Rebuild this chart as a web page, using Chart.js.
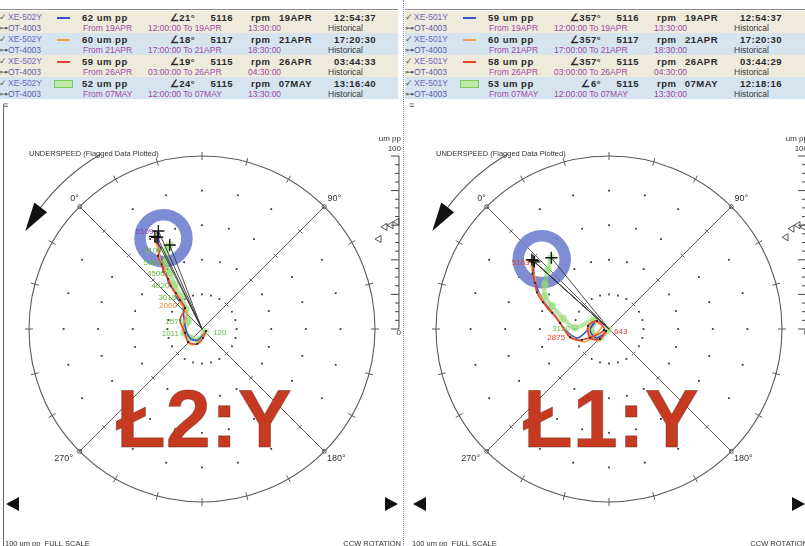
<!DOCTYPE html>
<html>
<head>
<meta charset="utf-8">
<script src="https://cdn.jsdelivr.net/npm/chart.js@4.4.0/dist/chart.umd.min.js"></script>
<style>
  html, body { margin:0; padding:0; width:805px; height:546px; overflow:hidden; background:#fff;
    font-family:"Liberation Sans", Arial, sans-serif; }
  .panel { position:absolute; top:0; height:546px; overflow:hidden; }
  .panel canvas { position:absolute; top:104px; }
  .hdr { position:absolute; white-space:nowrap; line-height:11px; height:11px; }
  .b { font-weight:bold; font-size:9.5px; color:#2a2a2a; letter-spacing:0.5px; }
  .n { font-size:8.5px; }
  .r { text-align:right; width:80px; }
  #divider { position:absolute; left:403px; top:0; width:0; height:546px; border-left:1px dotted #7d8db5; }
  #lborder { position:absolute; left:3px; top:104px; width:1px; height:442px; background:#666; }
</style>
</head>
<body>
<div id="left" class="panel" style="left:0;width:402px"></div>
<div id="right" class="panel" style="left:405px;width:400px"></div>
<div id="divider"></div>
<div id="lborder"></div>
<script>
// ---- Header values per probe: 1X amplitude (um pp), phase (deg), speed (rpm) ----
const sampleDates  = ['19APR', '21APR', '26APR', '07MAY'];
const windowStart  = ['12:00:00', '17:00:00', '03:00:00', '12:00:00'];
const windowEnd    = ['13:30:00', '18:30:00', '04:30:00', '13:30:00'];

const leftAmps   = [62, 60, 59, 52];
const leftPhases = [21, 18, 19, 24];
const leftRpms   = [5116, 5117, 5115, 5115];
const leftTimes  = ['12:54:37', '17:20:30', '03:44:33', '13:16:40'];

const rightAmps   = [59, 60, 58, 53];
const rightPhases = [357, 357, 357, 6];
const rightRpms   = [5116, 5117, 5115, 5115];
const rightTimes  = ['12:54:37', '17:20:30', '03:44:29', '12:18:16'];

// ---- Run-up 1X vector samples (um pp / deg), slow roll up to full speed ----
// XE-502Y
const l19AprAmp = [3.1, 6.8, 8.6, 9.3, 12.2, 17.3, 23.0, 27.8, 32.7, 38.0, 42.8, 47.9, 52.8, 57.1];
const l19AprPh  = [203, 245, 273, 311, 346, 5, 6, 9, 9, 12, 13, 15, 16, 19];
const l21AprAmp = [2.9, 7.0, 10.9, 10.6, 11.1, 12.3, 18.1, 23.1, 28.1, 32.9, 37.5, 42.0, 46.7, 51.5, 56.4];
const l21AprPh  = [188, 235, 257, 286, 324, 0, 5, 8, 8, 11, 11, 14, 14, 16, 17];
const l26AprAmp = [2.6, 5.2, 9.1, 11.0, 10.1, 13.7, 15.6, 21.0, 25.7, 30.6, 35.0, 39.9, 44.1, 49.3, 52.7, 57.4];
const l26AprPh  = [162, 219, 243, 272, 302, 337, 6, 8, 9, 9, 11, 11, 13, 14, 18, 17];
const l07MayAmp = [2.5, 6.6, 8.7, 10.7, 9.3, 14.8, 22.1, 30.1, 37.3, 44.0, 50.2];
const l07MayPh  = [180, 240, 278, 303, 345, 6, 12, 13, 15, 17, 21];
// XE-501Y
const r19AprAmp = [2.9, 9.1, 11.0, 8.8, 18.7, 25.4, 32.1, 39.0, 45.2, 49.9, 54.4];
const r19AprPh  = [262, 280, 312, 347, 299, 314, 329, 336, 342, 347, 352];
const r21AprAmp = [2.1, 9.4, 11.9, 10.6, 4.4, 15.8, 23.9, 30.7, 37.1, 43.2, 48.4, 52.0, 56.8];
const r21AprPh  = [259, 268, 301, 337, 338, 287, 308, 327, 333, 340, 344, 350, 353];
const r26AprAmp = [2.1, 7.8, 12.1, 12.3, 8.3, 2.9, 16.9, 23.0, 28.5, 34.2, 41.2, 46.8, 50.4, 54.6];
const r26AprPh  = [281, 267, 290, 323, 349, 304, 293, 303, 322, 331, 337, 342, 347, 351];
const r07MayAmp = [0.8, 7.4, 10.1, 10.1, 19.7, 27.3, 35.5, 41.6, 45.2, 49.1];
const r07MayPh  = [270, 270, 302, 346, 317, 328, 337, 342, 350, 359];

// ---- Speed tags along the traces (series index, sample index; -1 = final vector) ----
const leftTagText   = ['120', '1011', '1575', '2000', '3015', '4020', '4506', '5003', '5100', '5109'];
const leftTagSeries = [3, 3, 3, 1, 3, 3, 3, 3, 3, 0];
const leftTagIndex  = [0, 3, 4, 6, 6, 7, 8, 9, 10, -1];
const rightTagText   = ['643', '2875', '3120', '5103'];
const rightTagSeries = [2, 2, 3, 2];
const rightTagIndex  = [0, 7, 4, -1];

// ---- Highlight ring (amplitude / phase of its centre) ----
const leftRing  = [57, 22];
const rightRing = [56, 1];

const FULL_SCALE = 100;
const SERIES_COLORS = ['#3a4fc4', '#f0a048', '#e2452f', 'rgba(140,214,110,0.6)'];
const TAG_COLORS = ['#8b3fb0', '#f08a2e', '#e2392c', '#62bb40'];

const K = 1.73;              // pixels per um pp
const CW = 403, CH = 442;    // canvas size
const CX = 202, CY = 225;    // polar origin inside the canvas

function toXY(amp, ph) {
  const c = (ph - 45) * Math.PI / 180;   // 0 deg sits at the upper-left diagonal, lag runs clockwise
  return { x: amp * Math.sin(c), y: amp * Math.cos(c) };
}

function el(parent, cls, text, style) {
  const s = document.createElement('div');
  s.className = 'hdr ' + cls;
  s.textContent = text;
  Object.assign(s.style, style);
  parent.appendChild(s);
  return s;
}

function buildHeader(panel, p) {
  const o = p.origin;
  const line = document.createElement('div');
  Object.assign(line.style, { position:'absolute', left:'0px', top:'9px', width: p.tableWidth + 'px', height:'1px', background:'#8a8a8a' });
  panel.appendChild(line);
  for (let i = 0; i < 4; i++) {
    const top = 11 + i * 22;
    const bg = document.createElement('div');
    Object.assign(bg.style, { position:'absolute', left:'0px', top: top + 'px', width: p.tableWidth + 'px', height:'22px',
      background: i % 2 ? '#d5e4ef' : '#eeeadc' });
    panel.appendChild(bg);
    const t1 = top + 1, t2 = top + 12;
    el(panel, 'n', '\u2713', { left:(o + 1) + 'px', top:t1 + 'px', color:'#555', fontSize:'9px' });
    el(panel, 'n', p.chan, { left:(o + 10) + 'px', top:t1 + 'px', color:'#7268c0' });
    // legend swatch
    const sw = document.createElement('div');
    if (i === 3) {
      Object.assign(sw.style, { position:'absolute', left:(o + 56) + 'px', top:(t1 + 2) + 'px', width:'17px', height:'6px',
        background:'#bfe9a6', border:'1px solid #7cc85a' });
    } else {
      Object.assign(sw.style, { position:'absolute', left:(o + 59) + 'px', top:(t1 + 5) + 'px', width:'13px', height:'2px',
        background: SERIES_COLORS[i] });
    }
    panel.appendChild(sw);
    el(panel, 'b', p.amps[i] + ' um pp', { left:(o + 84) + 'px', top:t1 + 'px' });
    el(panel, 'b r', '\u2220' + p.phases[i] + '\u00b0', { left:(o + 117) + 'px', top:t1 + 'px' });
    el(panel, 'b r', String(p.rpms[i]), { left:(o + 155) + 'px', top:t1 + 'px' });
    el(panel, 'b', 'rpm', { left:(o + 253) + 'px', top:t1 + 'px' });
    el(panel, 'b r', sampleDates[i], { left:(o + 234) + 'px', top:t1 + 'px' });
    el(panel, 'b r', p.times[i], { left:(o + 298) + 'px', top:t1 + 'px' });
    // second line: data window
    el(panel, 'n', '\u22b6', { left:(o + 1) + 'px', top:t2 + 'px', color:'#555' });
    el(panel, 'n', p.sub, { left:(o + 10) + 'px', top:t2 + 'px', color:'#5b5fa8' });
    el(panel, 'n', 'From ' + sampleDates[i], { left:(o + 85) + 'px', top:t2 + 'px', color:'#a04aa6' });
    el(panel, 'n', windowStart[i] + ' To ' + sampleDates[i], { left:(o + 150) + 'px', top:t2 + 'px', color:'#a04aa6' });
    el(panel, 'n', windowEnd[i], { left:(o + 250) + 'px', top:t2 + 'px', color:'#a04aa6' });
    el(panel, 'n', 'Historical', { left:(o + 330) + 'px', top:t2 + 'px', color:'#3a3a3a' });
  }
  el(panel, 'n', '\u2261', { left:(o + 5) + 'px', top:'100px', color:'#666', fontSize:'9px' });
}

function framePlugin(p) {
  return {
    id: 'polarFrame',
    beforeDatasetsDraw(chart) {
      const ctx = chart.ctx, xs = chart.scales.x, ys = chart.scales.y;
      const cx = xs.getPixelForValue(0), cy = ys.getPixelForValue(0);
      const k = xs.getPixelForValue(1) - cx;
      const R = FULL_SCALE * k;
      const pt = (r, deg) => { const a = deg * Math.PI / 180; return [cx + r * Math.sin(a), cy - r * Math.cos(a)]; };
      const seg = (a, b) => { ctx.beginPath(); ctx.moveTo(a[0], a[1]); ctx.lineTo(b[0], b[1]); ctx.stroke(); };
      ctx.save();
      ctx.strokeStyle = '#5a5a5a';
      ctx.lineWidth = 1.1;
      ctx.beginPath(); ctx.arc(cx, cy, R, 0, Math.PI * 2); ctx.stroke();
      // rim ticks every 15 deg
      ctx.lineWidth = 1;
      for (let a = 0; a < 360; a += 15) {
        if (a % 90 === 45) continue;
        seg(pt(R - 4, a), pt(R + 4, a));
      }
      // diagonals with 20 um ticks
      for (const a of [45, 135]) seg(pt(R, a), pt(R, a + 180));
      for (const a of [45, 135, 225, 315]) {
        for (let v = 20; v < FULL_SCALE; v += 20) {
          const c = pt(v * k, a), d = (a + 90) * Math.PI / 180;
          seg([c[0] - 2.5 * Math.sin(d), c[1] + 2.5 * Math.cos(d)], [c[0] + 2.5 * Math.sin(d), c[1] - 2.5 * Math.cos(d)]);
        }
        const e = pt(R, a);
        ctx.beginPath(); ctx.arc(e[0], e[1], 2, 0, Math.PI * 2); ctx.stroke();
      }
      // dot grid
      ctx.fillStyle = '#3a3a3a';
      for (let v = 20; v < FULL_SCALE; v += 20) {
        for (let a = 0; a < 360; a += 15) {
          if (a % 90 === 45) continue;
          const q = pt(v * k, a);
          ctx.fillRect(q[0] - 0.9, q[1] - 0.9, 1.8, 1.8);
        }
      }
      // phase labels at the diagonals
      ctx.fillStyle = '#333';
      ctx.font = '9px "Liberation Sans", Arial';
      ctx.textAlign = 'center'; ctx.textBaseline = 'middle';
      const d0 = pt(R, -45), d90 = pt(R, 45), d180 = pt(R, 135), d270 = pt(R, 225);
      ctx.fillText('0\u00b0', d0[0] - 5, d0[1] - 8);
      ctx.fillText('90\u00b0', d90[0] + 10, d90[1] - 8);
      ctx.fillText('180\u00b0', d180[0] + 12, d180[1] + 7);
      ctx.fillText('270\u00b0', d270[0] - 16, d270[1] + 7);
      // rotation direction arrow
      const Rr = R + 29;
      ctx.lineWidth = 1.1;
      ctx.beginPath();
      ctx.arc(cx, cy, Rr, (-30 - 90) * Math.PI / 180, (-54 - 90) * Math.PI / 180, true);
      ctx.stroke();
      const tip = pt(Rr, -61), b1 = pt(Rr - 8, -53), b2 = pt(Rr + 8, -53);
      ctx.fillStyle = '#111';
      ctx.beginPath(); ctx.moveTo(tip[0], tip[1]); ctx.lineTo(b1[0], b1[1]); ctx.lineTo(b2[0], b2[1]); ctx.closePath(); ctx.fill();
      ctx.fillStyle = '#333';
      ctx.font = '7.5px "Liberation Sans", Arial';
      ctx.textAlign = 'left';
      ctx.fillText('UNDERSPEED (Flagged Data Plotted)', cx - 173, cy - 175);
      // amplitude bar on the right
      const ax = cx + 197;
      ctx.strokeStyle = '#444';
      ctx.lineWidth = 1;
      seg([ax, cy - R], [ax, cy]);
      for (let v = 0; v <= FULL_SCALE; v += 5) {
        const y = cy - v * k;
        seg([ax - (v % 20 === 0 ? 8 : 4), y], [ax, y]);
      }
      ctx.textAlign = 'right';
      ctx.font = '8px "Liberation Sans", Arial';
      ctx.fillText('um pp', ax + 2, cy - 190);
      ctx.fillText(String(FULL_SCALE), ax + 2, cy - 180);
      ctx.fillText('0', ax + 2, cy + 4);
      // vector amplitude markers
      ctx.strokeStyle = '#444';
      ctx.lineWidth = 0.9;
      p.amps.forEach((a, i) => {
        const y = cy - a * k, tx = ax - 6 - 6 * i;
        ctx.beginPath(); ctx.moveTo(tx, y); ctx.lineTo(tx + 6, y - 3.5); ctx.lineTo(tx + 6, y + 3.5); ctx.closePath(); ctx.stroke();
      });
      // cursor arrows
      ctx.fillStyle = '#111';
      const ay = cy + 175;
      ctx.beginPath(); ctx.moveTo(cx - 196, ay); ctx.lineTo(cx - 183, ay - 7); ctx.lineTo(cx - 183, ay + 7); ctx.closePath(); ctx.fill();
      ctx.beginPath(); ctx.moveTo(cx + 196, ay); ctx.lineTo(cx + 183, ay - 7); ctx.lineTo(cx + 183, ay + 7); ctx.closePath(); ctx.fill();
      // footer
      ctx.fillStyle = '#333';
      ctx.font = '7.5px "Liberation Sans", Arial';
      ctx.textAlign = 'left';
      ctx.fillText(FULL_SCALE + ' um pp  FULL SCALE', cx - 197, cy + 215);
      ctx.textAlign = 'right';
      ctx.fillText('CCW ROTATION', cx + 199, cy + 215);
      // bearing title
      ctx.font = 'bold 81px "Liberation Sans", Arial';
      ctx.textAlign = 'center';
      ctx.textBaseline = 'alphabetic';
      ctx.fillStyle = '#c53a20';
      ctx.fillText(p.title, cx + 2, cy + 118);
      ctx.strokeStyle = 'rgba(90,35,20,0.45)';
      ctx.lineWidth = 0.8;
      ctx.strokeText(p.title, cx + 2, cy + 118);
      ctx.restore();
    },
    afterDatasetsDraw(chart) {
      const ctx = chart.ctx;
      ctx.save();
      ctx.font = '8px "Liberation Sans", Arial';
      ctx.textBaseline = 'middle';
      p.tagText.forEach((t, j) => {
        const s = p.tagSeries[j];
        const meta = chart.getDatasetMeta(s + 1);
        const idx = p.tagIndex[j] < 0 ? meta.data.length - 1 : p.tagIndex[j];
        const e = meta.data[idx];
        ctx.fillStyle = TAG_COLORS[s];
        if (p.tagIndex[j] === 0) { ctx.textAlign = 'left'; ctx.fillText(t, e.x + 8, e.y + 1); }
        else { ctx.textAlign = 'right'; ctx.fillText(t, e.x - 5, e.y + 1); }
      });
      ctx.restore();
    }
  };
}

function buildChart(panel, p) {
  const cv = document.createElement('canvas');
  cv.width = CW; cv.height = CH;
  cv.style.left = p.canvasLeft + 'px';
  cv.style.width = CW + 'px'; cv.style.height = CH + 'px';
  panel.appendChild(cv);

  const ends = p.amps.map((a, i) => toXY(a, p.phases[i]));
  const datasets = [];
  datasets.push({
    data: [toXY(p.ring[0], p.ring[1])], pointRadius: 23.5, pointBorderWidth: 11.5, pointStyle: 'circle',
    pointBorderColor: 'rgba(112,128,206,0.9)', pointBackgroundColor: 'rgba(0,0,0,0)', showLine: false, order: 10
  });
  const orders = [5, 4, 3, 6];
  p.traceAmp.forEach((amps, i) => {
    const data = amps.map((a, j) => toXY(a, p.tracePh[i][j])).concat([ends[i]]);
    const green = i === 3;
    datasets.push({
      data, showLine: true, tension: 0.3,
      borderColor: SERIES_COLORS[i], borderWidth: green ? 4.5 : 1.6,
      pointRadius: green ? 4 : (i === 2 ? 1.3 : 0),
      pointStyle: green ? 'circle' : 'rect',
      pointBackgroundColor: green ? 'rgba(150,222,120,0.6)' : '#222',
      pointBorderWidth: 0, order: orders[i]
    });
  });
  ends.forEach((e) => {
    datasets.push({
      data: [{ x: 0, y: 0 }, e], showLine: true, borderColor: '#333', borderWidth: 0.9,
      pointRadius: [0, 6], pointStyle: 'cross', pointBorderColor: '#111', pointBorderWidth: 1.3, order: 1
    });
  });

  new Chart(cv, {
    type: 'scatter',
    data: { datasets },
    options: {
      responsive: false, animation: false, devicePixelRatio: 1, events: [],
      layout: { padding: 0, autoPadding: false },
      scales: {
        x: { type: 'linear', display: false, min: -CX / K, max: (CW - CX) / K },
        y: { type: 'linear', display: false, min: -(CH - CY) / K, max: CY / K }
      },
      plugins: { legend: { display: false }, tooltip: { enabled: false } }
    },
    plugins: [framePlugin(p)]
  });
}

const panels = [
  { id: 'left', origin: -2, tableWidth: 398, canvasLeft: 0, chan: 'XE-502Y', sub: 'OT-4003',
    amps: leftAmps, phases: leftPhases, rpms: leftRpms, times: leftTimes,
    traceAmp: [l19AprAmp, l21AprAmp, l26AprAmp, l07MayAmp], tracePh: [l19AprPh, l21AprPh, l26AprPh, l07MayPh],
    ring: leftRing, tagText: leftTagText, tagSeries: leftTagSeries, tagIndex: leftTagIndex, title: '\u01412:Y' },
  { id: 'right', origin: -1, tableWidth: 400, canvasLeft: 2, chan: 'XE-501Y', sub: 'OT-4003',
    amps: rightAmps, phases: rightPhases, rpms: rightRpms, times: rightTimes,
    traceAmp: [r19AprAmp, r21AprAmp, r26AprAmp, r07MayAmp], tracePh: [r19AprPh, r21AprPh, r26AprPh, r07MayPh],
    ring: rightRing, tagText: rightTagText, tagSeries: rightTagSeries, tagIndex: rightTagIndex, title: '\u01411:Y' }
];

panels.forEach((p) => {
  const panel = document.getElementById(p.id);
  buildHeader(panel, p);
  buildChart(panel, p);
});
</script>
</body>
</html>
